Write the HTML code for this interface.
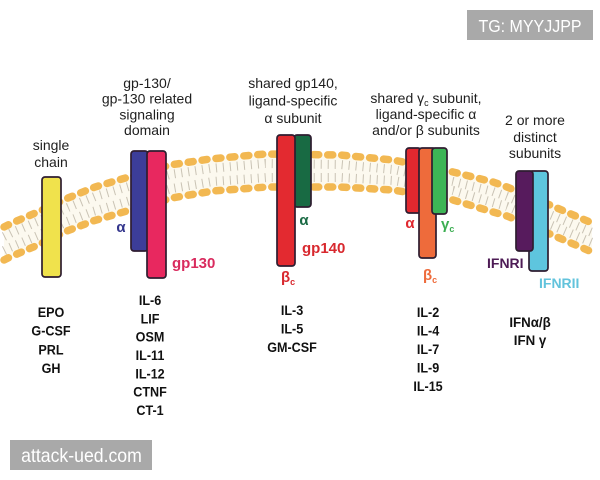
<!DOCTYPE html>
<html><head><meta charset="utf-8"><style>
html,body{margin:0;padding:0;background:#fff;}
svg{display:block;}
text{font-family:"Liberation Sans","DejaVu Sans",sans-serif;}
</style></head><body>
<svg width="600" height="480" viewBox="0 0 600 480" xmlns="http://www.w3.org/2000/svg">
<rect width="600" height="480" fill="#fff"/>

<!-- membrane -->
<polygon fill="#fcf9ef" points="4,227 12,223 40,211 68,198 95,187 122,179 170,165 210,159 265,154 340,155 393,160 453,172 493,182 507,187 557,208 592,223 592,252 557,237 507,216 493,212 453,200 393,190 340,187 267,187 213,191 172,198 120,213 93,221 67,231 38,245 10,257 4,260"/>
<polyline fill="none" stroke="#b8b0a0" stroke-width="9" stroke-dasharray="1 6" opacity="0.75" points="4,236.5 12,232.5 40,220.5 68,207.5 95,196.5 122,188.5 170,174.5 210,168.5 265,163.5 340,164.5 393,169.5 453,181.5 493,191.5 507,196.5 557,217.5 592,232.5"/>
<polyline fill="none" stroke="#b8b0a0" stroke-width="9" stroke-dasharray="1 6" opacity="0.75" points="4,250.5 10,247.5 38,235.5 67,221.5 93,211.5 120,203.5 172,188.5 213,181.5 267,177.5 340,177.5 393,180.5 453,190.5 493,202.5 507,206.5 557,227.5 592,242.5"/>
<polyline fill="none" stroke="#f2b852" stroke-width="7.5" stroke-linecap="round" stroke-dasharray="5 9" points="4,227 12,223 40,211 68,198 95,187 122,179 170,165 210,159 265,154 340,155 393,160 453,172 493,182 507,187 557,208 592,223"/>
<polyline fill="none" stroke="#f2b852" stroke-width="7.5" stroke-linecap="round" stroke-dasharray="5 9" points="4,260 10,257 38,245 67,231 93,221 120,213 172,198 213,191 267,187 340,187 393,190 453,200 493,212 507,216 557,237 592,252"/>

<!-- receptors -->
<g stroke="#2e1d30" stroke-width="1.7">
  <rect x="42" y="177" width="19" height="100" rx="3" fill="#f0e24c"/>
  <rect x="131" y="151" width="17" height="100" rx="3" fill="#3c3d99"/>
  <rect x="147" y="151" width="19" height="127" rx="3" fill="#e8285f"/>
  <rect x="294" y="135" width="17" height="72" rx="3" fill="#186a43"/>
  <rect x="277" y="135" width="18" height="131" rx="3" fill="#e32a30"/>
  <rect x="406" y="148" width="15" height="65" rx="3" fill="#e3282f"/>
  <rect x="419" y="148" width="17" height="110" rx="3" fill="#ee6b3b"/>
  <rect x="432" y="148" width="15" height="66" rx="3" fill="#3db556"/>
  <rect x="529" y="171" width="19" height="100" rx="3" fill="#5ec5de"/>
  <rect x="516" y="171" width="17" height="80" rx="3" fill="#571b5d"/>
</g>

<!-- receptor labels -->
<g font-weight="bold" font-size="15">
  <text x="121" y="232" fill="#33358c" text-anchor="middle">α</text>
  <text x="172" y="268" fill="#d92b5e">gp130</text>
  <text x="304" y="225" fill="#1a6a44" text-anchor="middle">α</text>
  <text x="302" y="253" fill="#d8282e">gp140</text>
  <text x="281" y="282" fill="#d8282e">β<tspan font-size="9" dy="3">c</tspan></text>
  <text x="410" y="228" fill="#e0282f" text-anchor="middle">α</text>
  <text x="441" y="229" fill="#3cae52">γ<tspan font-size="9" dy="3">c</tspan></text>
  <text x="423" y="280" fill="#ee6b3b">β<tspan font-size="9" dy="3">c</tspan></text>
  <text x="487" y="268" fill="#4d1b55" font-size="14">IFNRI</text>
  <text x="539" y="288" fill="#62c3dc" font-size="14">IFNRII</text>
</g>

<!-- headers -->
<g font-size="14" fill="#1e1e1e" text-anchor="middle">
  <text x="51" y="150">single</text>
  <text x="51" y="167">chain</text>

  <text x="147" y="88">gp-130/</text>
  <text x="147" y="103.7">gp-130 related</text>
  <text x="147" y="119.4">signaling</text>
  <text x="147" y="135">domain</text>

  <text x="293" y="88">shared gp140,</text>
  <text x="293" y="105.5">ligand-specific</text>
  <text x="293" y="123">α subunit</text>

  <text x="426" y="103">shared γ<tspan font-size="9" dy="3">c</tspan><tspan dy="-3"> subunit,</tspan></text>
  <text x="426" y="119">ligand-specific α</text>
  <text x="426" y="135">and/or β subunits</text>

  <text x="535" y="125">2 or more</text>
  <text x="535" y="142">distinct</text>
  <text x="535" y="158">subunits</text>
</g>

<!-- ligand lists -->
<g font-size="14" font-weight="bold" fill="#111" text-anchor="middle">
  <g transform="translate(51,0) scale(0.9,1)">
    <text x="0" y="317">EPO</text>
    <text x="0" y="335.7">G-CSF</text>
    <text x="0" y="354.3">PRL</text>
    <text x="0" y="373">GH</text>
  </g>
  <g transform="translate(150,0) scale(0.9,1)">
    <text x="0" y="305">IL-6</text>
    <text x="0" y="323.3">LIF</text>
    <text x="0" y="341.7">OSM</text>
    <text x="0" y="360">IL-11</text>
    <text x="0" y="378.3">IL-12</text>
    <text x="0" y="396.7">CTNF</text>
    <text x="0" y="415">CT-1</text>
  </g>
  <g transform="translate(292,0) scale(0.9,1)">
    <text x="0" y="315">IL-3</text>
    <text x="0" y="333.5">IL-5</text>
    <text x="0" y="352">GM-CSF</text>
  </g>
  <g transform="translate(428,0) scale(0.9,1)">
    <text x="0" y="317">IL-2</text>
    <text x="0" y="335.5">IL-4</text>
    <text x="0" y="354">IL-7</text>
    <text x="0" y="372.5">IL-9</text>
    <text x="0" y="391">IL-15</text>
  </g>
  <g transform="translate(530,0) scale(0.95,1)">
    <text x="0" y="327">IFNα/β</text>
    <text x="0" y="345">IFN γ</text>
  </g>
</g>

<!-- watermarks -->
<rect x="467" y="10" width="126" height="30" fill="#a9a9a9"/>
<g transform="translate(530,0) scale(0.89,1)">
  <text x="0" y="32" font-size="18" fill="#fff" text-anchor="middle">TG: MYYJJPP</text>
</g>
<rect x="10" y="440" width="142" height="30" fill="#a9a9a9"/>
<g transform="translate(81.5,0) scale(0.93,1)">
  <text x="0" y="462" font-size="19" fill="#fff" text-anchor="middle">attack-ued.com</text>
</g>
</svg>
</body></html>
